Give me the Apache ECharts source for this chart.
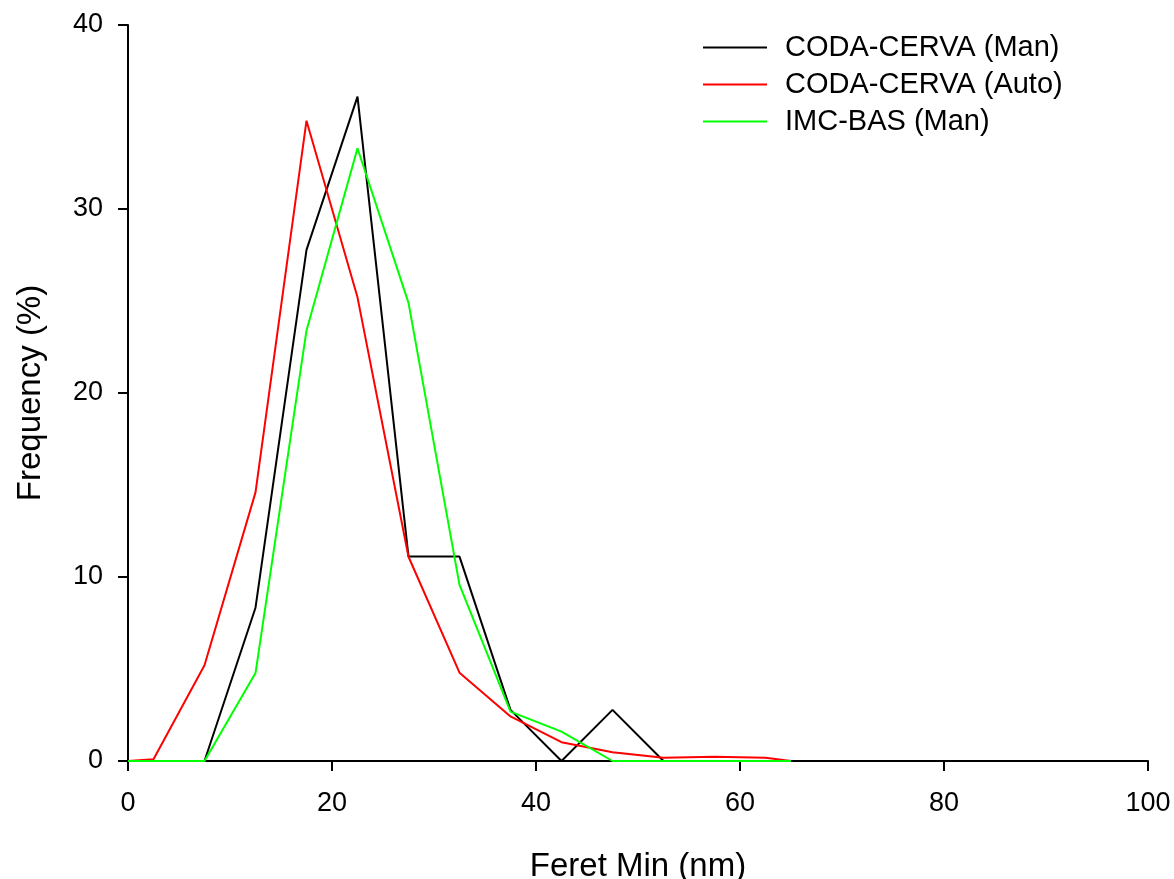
<!DOCTYPE html>
<html>
<head>
<meta charset="utf-8">
<script src="https://cdn.jsdelivr.net/npm/echarts@6/dist/echarts.min.js"></script>
<style>
  html, body { margin: 0; padding: 0; background: #fff; }
  #chart { width: 1174px; height: 879px; }
</style>
</head>
<body>
<div id="chart"></div>
<script>
const binCenters = [0, 2.5, 7.5, 12.5, 17.5, 22.5, 27.5, 32.5, 37.5, 42.5, 47.5, 52.5, 57.5, 62.5, 65];
const codaMan  = [0, 0, 0, 8.33, 27.78, 36.11, 11.11, 11.11, 2.78, 0, 2.78, 0, null, null, null];
const codaAuto = [0, 0.1, 5.2, 14.6, 34.8, 25.2, 11.1, 4.8, 2.42, 1.02, 0.47, 0.18, 0.23, 0.18, 0];
const imcMan   = [0, 0, 0, 4.78, 23.4, 33.3, 24.9, 9.57, 2.68, 1.6, 0, 0, 0, 0, 0];
const seriesNames = ['CODA-CERVA (Man)', 'CODA-CERVA (Auto)', 'IMC-BAS (Man)'];

const pairs = (ys) => binCenters.map((x, i) => [x, ys[i]]).filter(p => p[1] != null);
const font = 'Liberation Sans, Arial, sans-serif';

const chart = echarts.init(document.getElementById('chart'), null, { renderer: 'canvas' });

const mkLine = (name, ys, color) => ({
  name: name, type: 'line', data: pairs(ys), symbol: 'none', showSymbol: false,
  lineStyle: { color: color, width: 2 }, itemStyle: { color: color }
});

chart.setOption({
  animation: false,
  grid: { left: 128, right: 26, top: 25, bottom: 118, outerBoundsMode: 'none' },
  legend: {
    orient: 'vertical', left: 698, top: 28, itemGap: 8,
    icon: 'path://M0,0H64V2H0Z',
    itemWidth: 64, itemHeight: 2,
    textStyle: { fontFamily: font, fontSize: 29, lineHeight: 29, color: '#000', padding: [0, 0, 0, 13] },
    data: seriesNames
  },
  xAxis: {
    type: 'value', min: 0, max: 100, interval: 20,
    name: 'Feret Min (nm)', nameLocation: 'middle', nameGap: 89,
    nameTextStyle: { fontFamily: font, fontSize: 33, color: '#000' },
    axisLine: { show: true, lineStyle: { color: '#000', width: 2 } },
    axisTick: { show: true, length: 10, lineStyle: { color: '#000', width: 2 } },
    axisLabel: { fontFamily: font, fontSize: 27, color: '#000', margin: 29 },
    splitLine: { show: false }
  },
  yAxis: {
    type: 'value', min: 0, max: 40, interval: 10,
    name: 'Frequency (%)', nameLocation: 'middle', nameGap: 81, nameRotate: 90,
    nameTextStyle: { fontFamily: font, fontSize: 33, color: '#000' },
    axisLine: { show: true, lineStyle: { color: '#000', width: 2 } },
    axisTick: { show: true, length: 10, lineStyle: { color: '#000', width: 2 } },
    axisLabel: { fontFamily: font, fontSize: 27, color: '#000', margin: 25 },
    splitLine: { show: false }
  },
  series: [
    mkLine(seriesNames[0], codaMan, '#000000'),
    mkLine(seriesNames[1], codaAuto, '#ff0000'),
    mkLine(seriesNames[2], imcMan, '#00ff00')
  ]
});
</script>
</body>
</html>
